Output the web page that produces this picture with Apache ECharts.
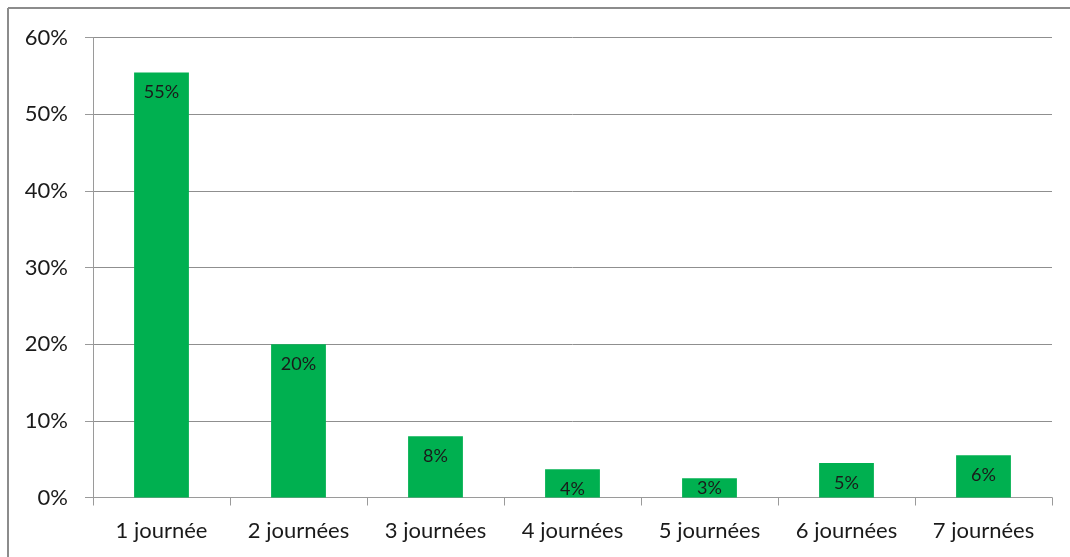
<!DOCTYPE html>
<html>
<head>
<meta charset="utf-8">
<script src="https://cdn.jsdelivr.net/npm/echarts@6/dist/echarts.min.js"></script>
<style>
html,body{margin:0;padding:0;background:#fff;}
#chart{width:1070px;height:557px;}
</style>
</head>
<body>
<div id="chart"></div>
<script>
var categories = ['1 journée','2 journées','3 journées','4 journées','5 journées','6 journées','7 journées'];
var values = [55.45, 20.0, 8.0, 3.7, 2.5, 4.5, 5.5];
var yTicks = [0, 10, 20, 30, 40, 50, 60];

var FONT = 'Lato';
var barData = values.map(function (v) {
  return v < 3 ? {value: v, label: {position: 'inside'}} : v;
});
var chart = echarts.init(document.getElementById('chart'));
chart.setOption({
  animation: false,
  backgroundColor: '#ffffff',
  grid: {left: 93, right: 18, top: 37.5, bottom: 59.5, containLabel: false},
  graphic: [
    {type: 'line', shape: {x1: 8, y1: 8, x2: 1070, y2: 8}, style: {stroke: '#8c8c8c', lineWidth: 2}},
    {type: 'line', shape: {x1: 8, y1: 8, x2: 8, y2: 557}, style: {stroke: '#8c8c8c', lineWidth: 2}}
  ],
  xAxis: {
    type: 'category',
    data: categories,
    axisLine: {lineStyle: {color: '#9a9a9a', width: 1}},
    axisTick: {show: true, length: 8, alignWithLabel: false, lineStyle: {color: '#9a9a9a'}},
    axisLabel: {color: '#1a1a1a', fontSize: 22, fontFamily: FONT, margin: 22}
  },
  yAxis: {
    type: 'value',
    min: yTicks[0],
    max: yTicks[yTicks.length - 1],
    interval: 10,
    axisLine: {show: true, lineStyle: {color: '#9a9a9a', width: 1}},
    axisTick: {show: true, length: 8, lineStyle: {color: '#9a9a9a'}},
    splitLine: {show: true, lineStyle: {color: '#8f8f8f', width: 1}},
    axisLabel: {color: '#1a1a1a', fontSize: 22, fontFamily: FONT, margin: 25,
      formatter: function (v) { return v + '%'; }}
  },
  series: [{
    type: 'bar',
    data: barData,
    barCategoryGap: '60%',
    itemStyle: {color: '#00b050'},
    label: {
      show: true,
      position: 'insideTop',
      distance: 11,
      color: '#1a1a1a',
      fontSize: 18,
      fontFamily: FONT,
      formatter: function (p) { return Math.round(p.value) + '%'; }
    }
  }]
});
</script>
</body>
</html>
